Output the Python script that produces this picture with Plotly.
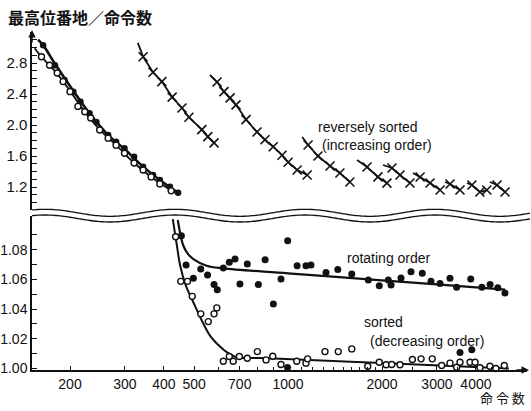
import numpy as np
import plotly.graph_objects as go

# ---------------- data ----------------
# upper panel, left group (same experiments at small instruction counts)
rot_up_x = [164, 179, 192, 205, 216, 231, 243, 265, 281, 299, 321, 343, 369, 388, 418, 444]
rot_up_y = [3.03, 2.77, 2.58, 2.43, 2.30, 2.15, 2.04, 1.87, 1.785, 1.70, 1.59, 1.46, 1.355, 1.29, 1.204, 1.126]
sort_up_x = [162, 172, 182, 190, 200, 212, 223, 233, 249, 265, 281, 299, 321, 343, 364, 388, 422]
sort_up_y = [2.88, 2.77, 2.67, 2.56, 2.43, 2.24, 2.17, 2.09, 1.935, 1.83, 1.74, 1.635, 1.51, 1.42, 1.33, 1.24, 1.15]
rot_up_fit_x = [158, 164, 179, 205, 231, 265, 299, 343, 388, 444]
rot_up_fit_y = [3.10, 3.03, 2.79, 2.44, 2.15, 1.87, 1.69, 1.46, 1.29, 1.125]
sort_up_fit_x = [154, 162, 182, 200, 223, 249, 281, 321, 364, 434]
sort_up_fit_y = [2.99, 2.88, 2.66, 2.44, 2.17, 1.94, 1.74, 1.51, 1.33, 1.125]

# reversely sorted (increasing order): segments, first point = start of line
rev_seg_x = [
    [330, 343, 369, 394, 425, 457, 481, 529, 553, 579],
    [562, 592, 623, 652, 681, 733, 795, 843, 896, 956, 1000, 1069, 1151],
    [1110, 1159, 1247, 1363, 1466, 1578],
    [1663, 1791, 1941, 2074],
    [2015, 2153, 2284, 2458],
    [2514, 2649, 2851, 3070],
    [3186, 3304, 3556],
    [3744, 3884, 4118, 4335],
    [4434, 4674, 4959],
]
rev_seg_y = [
    [3.06, 2.88, 2.68, 2.56, 2.36, 2.22, 2.10, 1.94, 1.85, 1.77],
    [2.645, 2.555, 2.43, 2.35, 2.26, 2.07, 1.91, 1.81, 1.72, 1.61, 1.52, 1.42, 1.355],
    [1.845, 1.742, 1.60, 1.471, 1.381, 1.265],
    [1.548, 1.458, 1.33, 1.25],
    [1.484, 1.445, 1.355, 1.252],
    [1.381, 1.329, 1.252, 1.161],
    [1.265, 1.239, 1.161],
    [1.252, 1.226, 1.135, 1.161],
    [1.265, 1.226, 1.135],
]

# lower panel: rotating order (filled) and sorted (open)
rot_x = [455, 471, 497, 525, 552, 579, 593, 620, 648, 676, 701, 740, 803, 844, 897, 949, 997, 996,
         1069, 1141, 1184, 1323, 1443, 1600, 1808, 1960, 2095, 2138, 2301, 2477, 2692, 2871, 3069,
         3303, 3469, 3556, 3850, 3880, 4180, 4440, 4700, 4955]
rot_y = [1.0894, 1.0697, 1.0607, 1.0670, 1.0630, 1.0565, 1.0531, 1.0677, 1.0715, 1.0737, 1.0569,
         1.0704, 1.0565, 1.0733, 1.0435, 1.0603, 1.0861, 1.0007, 1.0692, 1.0692, 1.0697, 1.0647,
         1.0666, 1.0637, 1.0596, 1.0558, 1.0596, 1.0563, 1.0610, 1.0652, 1.0641, 1.0587, 1.0573,
         1.0607, 1.0547, 1.0108, 1.0603, 1.0126, 1.0547, 1.0565, 1.0543, 1.0509]
rot_fit_x = [443, 452, 461, 478, 497, 548, 620, 1000, 2000, 3000, 4000, 4960]
rot_fit_y = [1.100, 1.090, 1.083, 1.077, 1.0737, 1.0692, 1.0674, 1.0641, 1.0594, 1.0566, 1.0547, 1.0531]

sort_x = [436, 453, 476, 493, 525, 555, 579, 591, 620, 648, 667, 698, 740, 797, 850, 893, 949,
          1066, 1141, 1155, 1313, 1448, 1600, 1800, 1960, 2061, 2149, 2284, 2503, 2668, 2898,
          3106, 3303, 3469, 3556, 3831, 3974, 4121, 4436, 4634, 4932]
sort_y = [1.0887, 1.0587, 1.0587, 1.0486, 1.0368, 1.0316, 1.0368, 1.0408, 1.0049, 1.0081, 1.0049,
          1.0081, 1.0069, 1.0114, 1.0058, 1.0083, 1.0027, 1.0049, 1.0036, 1.0065, 1.0114, 1.0114,
          1.0132, 1.0015, 1.0042, 1.0025, 1.0027, 1.0025, 1.0061, 1.0065, 1.0065, 1.0020, 1.0036,
          1.0009, 1.0042, 1.0042, 1.0042, 1.0005, 1.0015, 1.0000, 1.0020]
sort_fit_x = [427, 440, 451, 470, 497, 530, 562, 600, 636, 684, 813, 942, 2000, 5100]
sort_fit_y = [1.1006, 1.083, 1.0692, 1.056, 1.0446, 1.032, 1.0222, 1.0155, 1.0110, 1.0076, 1.0071, 1.0065, 1.0037, 1.0000]

x_tick_vals = [200, 300, 400, 500, 700, 1000, 2000, 3000, 4000]
x_tick_text = ["200", "300", "400", "500", "700", "1000", "2000", "3000", "4000"]
x_minor_vals = [600, 800, 900, 1100, 1200, 1300, 1400, 1500, 1600, 1700, 1800, 1900, 2500, 3500, 4500, 5000]
up_tick_vals = [1.2, 1.6, 2.0, 2.4, 2.8]
up_tick_text = ["1.2", "1.6", "2.0", "2.4", "2.8"]
lo_tick_vals = [1.00, 1.02, 1.04, 1.06, 1.08]
lo_tick_text = ["1.00", "1.02", "1.04", "1.06", "1.08"]

# ---------------- layout geometry ----------------
W, H = 531, 411
PL, PR, PT, PB = 32, 527, 32, 370      # plot area in window pixels
PW, PH = PR - PL, PB - PT
X0_LOG = 2.1792
X1_LOG = X0_LOG + PW / 312.0

def px_to_paper(px, py):
    return (px - PL) / PW, (PB - py) / PH

FONT = "Liberation Sans, Arimo, Arial, sans-serif"
CJK = "Noto Sans CJK JP, Noto Sans CJK SC, sans-serif"
BLACK = "#111111"

fig = go.Figure()

# upper-left curves
fig.add_trace(go.Scatter(x=rot_up_fit_x, y=rot_up_fit_y, xaxis="x2", yaxis="y2", mode="lines",
                         line=dict(color=BLACK, width=2.6, shape="spline"), showlegend=False))
fig.add_trace(go.Scatter(x=sort_up_fit_x, y=sort_up_fit_y, xaxis="x2", yaxis="y2", mode="lines",
                         line=dict(color=BLACK, width=1.8, shape="spline"), showlegend=False))
fig.add_trace(go.Scatter(x=rot_up_x, y=rot_up_y, xaxis="x2", yaxis="y2", mode="markers",
                         marker=dict(symbol="circle", size=6.5, color=BLACK), showlegend=False))
fig.add_trace(go.Scatter(x=sort_up_x, y=sort_up_y, xaxis="x2", yaxis="y2", mode="markers",
                         marker=dict(symbol="circle", size=6, color="white", line=dict(color=BLACK, width=1.4)),
                         showlegend=False))

# reversely sorted segments
for xs, ys in zip(rev_seg_x, rev_seg_y):
    fig.add_trace(go.Scatter(x=xs, y=ys, xaxis="x2", yaxis="y2", mode="lines",
                             line=dict(color=BLACK, width=1.8), showlegend=False))
    fig.add_trace(go.Scatter(x=xs[1:], y=ys[1:], xaxis="x2", yaxis="y2", mode="markers",
                             marker=dict(symbol="x-thin-open", size=9, color=BLACK,
                                         line=dict(color=BLACK, width=1.6)),
                             showlegend=False))

# lower panel
fig.add_trace(go.Scatter(x=rot_fit_x, y=rot_fit_y, mode="lines",
                         line=dict(color=BLACK, width=2.2, shape="spline"), showlegend=False))
fig.add_trace(go.Scatter(x=sort_fit_x, y=sort_fit_y, mode="lines",
                         line=dict(color=BLACK, width=2.0, shape="spline"), showlegend=False))
fig.add_trace(go.Scatter(x=rot_x, y=rot_y, mode="markers", cliponaxis=False,
                         marker=dict(symbol="circle", size=7, color=BLACK), showlegend=False))
fig.add_trace(go.Scatter(x=sort_x, y=sort_y, mode="markers", cliponaxis=False,
                         marker=dict(symbol="circle", size=6, color="white", line=dict(color=BLACK, width=1.4)),
                         showlegend=False))

# wavy break lines (decoration)
def wave_path(center, amp=3.5, period=130.0, trough=110.0):
    pts = []
    for px in np.arange(PL, 531, 2.0):
        py = center + amp * np.cos(2 * np.pi * (px - trough) / period)
        xp, yp = px_to_paper(px, py)
        pts.append(f"{xp:.5f},{yp:.5f}")
    return "M " + " L ".join(pts)

shapes = [
    dict(type="path", xref="paper", yref="paper", path=wave_path(212.8), line=dict(color=BLACK, width=1.3)),
    dict(type="path", xref="paper", yref="paper", path=wave_path(218.5), line=dict(color=BLACK, width=1.3)),
]

_, up_bot = px_to_paper(0, 210)
_, lo_top = px_to_paper(0, 215.7)

axis_common = dict(showgrid=False, zeroline=False, linecolor=BLACK, linewidth=1.5,
                   ticks="inside", tickcolor=BLACK, tickwidth=1.2)
xfont = dict(family=FONT, size=14, color=BLACK)
yfont_up = dict(family=FONT, size=15, color=BLACK)
yfont_lo = dict(family=FONT, size=14, color=BLACK)

fig.update_layout(
    width=W, height=H,
    margin=dict(l=PL, r=W - PR, t=PT, b=H - PB, autoexpand=False),
    paper_bgcolor="white", plot_bgcolor="white", showlegend=False,
    shapes=shapes,
    xaxis=dict(type="log", range=[X0_LOG, X1_LOG], anchor="y", showline=True, tickfont=xfont,
               tickmode="array", tickvals=x_tick_vals, ticktext=x_tick_text, ticklen=4,
               minor=dict(tickvals=x_minor_vals, ticks="inside", ticklen=3, tickcolor=BLACK, tickwidth=1),
               **axis_common),
    xaxis2=dict(type="log", range=[X0_LOG, X1_LOG], anchor="y2", matches="x", visible=False),
    yaxis=dict(domain=[0, lo_top], range=[0.999, 1.1029], anchor="x", showline=True, tickfont=yfont_lo,
               tickmode="array", tickvals=lo_tick_vals, ticktext=lo_tick_text, ticklen=5,
               minor=dict(tickvals=[1.01, 1.03, 1.05, 1.07, 1.09], ticks="inside", ticklen=5,
                          tickcolor=BLACK, tickwidth=1.2),
               **axis_common),
    yaxis2=dict(domain=[up_bot, 1.0], range=[0.9032, 3.2], anchor="x2", showline=True, tickfont=yfont_up,
                tickmode="array", tickvals=up_tick_vals, ticktext=up_tick_text, ticklen=5,
                minor=dict(tickvals=[1.0, 1.1, 1.3, 1.4, 1.5, 1.7, 1.8, 1.9, 2.1, 2.2, 2.3, 2.5, 2.6, 2.7, 2.9, 3.0, 3.1],
                           ticks="inside", ticklen=5, tickcolor=BLACK, tickwidth=1.2),
                **axis_common),
)

def ann(px, py, text, size=14, family=FONT, xanchor="left", weight="normal"):
    xp, yp = px_to_paper(px, py)
    return dict(x=xp, y=yp, xref="paper", yref="paper", text=text, showarrow=False,
                xanchor=xanchor, yanchor="middle",
                font=dict(family=family, size=size, color=BLACK, weight=weight))

annotations = [
    ann(316, 127, "reversely sorted", 14),
    ann(320, 145, "(increasing order)", 14),
    ann(345, 258, "rotating order", 14),
    ann(362, 322, "sorted", 14),
    ann(368, 341, "(decreasing order)", 14),
    ann(6, 17, "最高位番地／命令数", 16, CJK, weight="bold"),
    ann(527, 397, "命 令 数", 13, CJK, xanchor="right"),
]
# axis arrows
xa, ya = px_to_paper(PL, 30)
annotations.append(dict(x=xa, y=ya, xref="paper", yref="paper", ax=0, ay=14,
                        text="", showarrow=True, arrowhead=2, arrowsize=1, arrowwidth=1.5, arrowcolor=BLACK))
xa, ya = px_to_paper(529, PB)
annotations.append(dict(x=xa, y=ya, xref="paper", yref="paper", ax=-14, ay=0,
                        text="", showarrow=True, arrowhead=2, arrowsize=1, arrowwidth=1.5, arrowcolor=BLACK))
fig.update_layout(annotations=annotations)

fig.write_html("out.html", config={"displayModeBar": False},
               post_script="document.body.style.margin='0';document.body.style.overflow='hidden';")
